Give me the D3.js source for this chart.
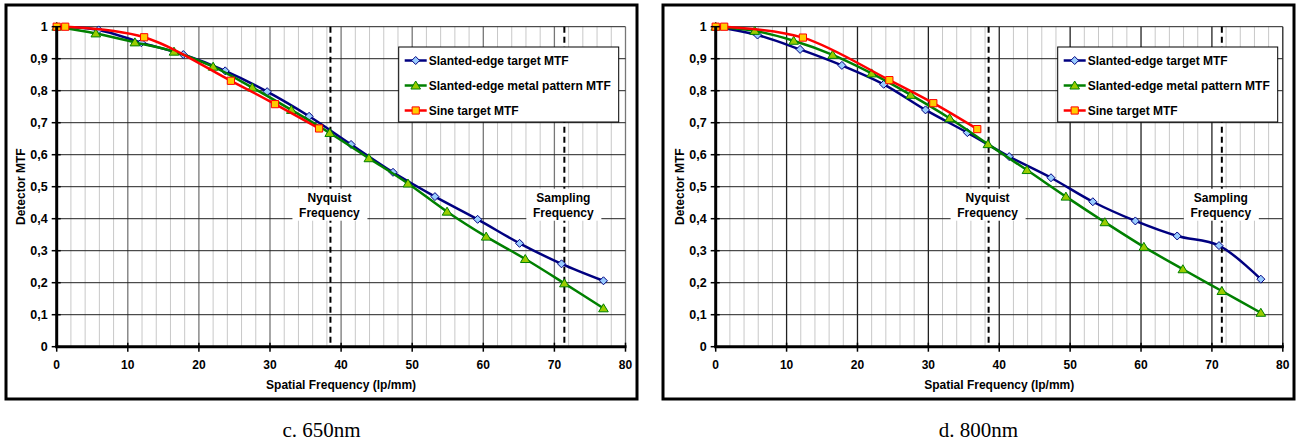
<!DOCTYPE html>
<html><head><meta charset="utf-8">
<script src="https://cdn.jsdelivr.net/npm/d3@7"></script>
<style>body{margin:0;background:#fff}svg{display:block}</style>
</head><body>
<svg id="c" width="1296" height="443"></svg>
<script>
// ---- data ----
const xTicks = [0,10,20,30,40,50,60,70,80];
const xMinor = [2,4,6,8,12,14,16,18,22,24,26,28,32,34,36,38,42,44,46,48,52,54,56,58,62,64,66,68,72,74,76,78];
const yTicks = [0,0.1,0.2,0.3,0.4,0.5,0.6,0.7,0.8,0.9,1];
const yTickLabels = ["0","0,1","0,2","0,3","0,4","0,5","0,6","0,7","0,8","0,9","1"];
const seriesNames = ["Slanted-edge target MTF","Slanted-edge metal pattern MTF","Sine target MTF"];
const blueX  = [0,5.9,11.9,17.8,23.7,29.6,35.5,41.4,47.3,53.2,59.2,65.1,71.0,76.9];
const greenX = [0,5.5,11.0,16.5,22.0,27.5,33.0,38.4,43.9,49.4,54.9,60.4,65.9,71.4,76.9];
const redX   = [0,1.2,12.3,24.5,30.7,36.9];
const blue650  = [1,0.990,0.950,0.913,0.862,0.797,0.720,0.632,0.545,0.469,0.398,0.323,0.259,0.206];
const green650 = [1,0.979,0.951,0.922,0.875,0.810,0.740,0.668,0.589,0.510,0.422,0.344,0.274,0.198,0.120];
const red650   = [1,1,0.967,0.831,0.758,0.682];
const blue800  = [1,0.974,0.929,0.879,0.820,0.740,0.669,0.594,0.528,0.453,0.393,0.346,0.316,0.211];
const green800 = [1,0.987,0.956,0.912,0.854,0.787,0.714,0.633,0.552,0.469,0.389,0.312,0.242,0.174,0.106];
const red800   = [1,1,0.966,0.833,0.761,0.680];
const nyquist = 38.5, sampling = 71.4;
const captions = ["c. 650nm","d. 800nm"];

// ---- drawing ----
const svg = d3.select("#c");
const FONT = "'Liberation Sans', Arial, sans-serif";
const styles = [
  {line:"#000080", fill:"#99ccff", shape:"diamond"},
  {line:"#008000", fill:"#99cc00", shape:"triangle"},
  {line:"#ff0000", fill:"#ffcc00", shape:"square"}
];
function marker(sel, shape, fill, stroke){
  let d;
  if(shape==="diamond") d="M0,-4L4,0L0,4L-4,0Z";
  else if(shape==="triangle") d="M0,-4.5L4.8,3.5L-4.8,3.5Z";
  else d="M-3.6,-3.6H3.6V3.6H-3.6Z";
  sel.append("path").attr("d",d).attr("fill",fill).attr("stroke",stroke).attr("stroke-width",1);
}

function drawChart(frame, plot, series, caption, majorColor){
  const g = svg.append("g");
  g.append("rect").attr("x",frame.x0).attr("y",frame.y0)
    .attr("width",frame.x1-frame.x0).attr("height",frame.y1-frame.y0)
    .attr("fill","#fff").attr("stroke","#000").attr("stroke-width",3);
  const x = d3.scaleLinear().domain([0,80]).range([plot.x0, plot.x1]);
  const y = d3.scaleLinear().domain([0,1]).range([plot.y1, plot.y0]);
  // grid
  g.selectAll(".mn").data(xMinor).join("line")
    .attr("x1",d=>x(d)).attr("x2",d=>x(d)).attr("y1",y(0)).attr("y2",y(1))
    .attr("stroke","#c8c8c8").attr("stroke-width",1);
  g.selectAll(".mj").data(xTicks.slice(1)).join("line")
    .attr("x1",d=>x(d)).attr("x2",d=>x(d)).attr("y1",y(0)).attr("y2",y(1))
    .attr("stroke",majorColor).attr("stroke-width",1.3);
  g.selectAll(".hz").data(yTicks.slice(1)).join("line")
    .attr("x1",x(0)).attr("x2",x(80)).attr("y1",d=>y(d)).attr("y2",d=>y(d))
    .attr("stroke","#222").attr("stroke-width",1);
  // dashed frequency lines
  [nyquist, sampling].forEach(v=>{
    g.append("line").attr("x1",x(v)).attr("x2",x(v)).attr("y1",y(1)).attr("y2",y(0))
      .attr("stroke","#000").attr("stroke-width",2).attr("stroke-dasharray","6,4");
  });
  // series
  const line = d3.line().x(d=>x(d[0])).y(d=>y(d[1])).curve(d3.curveCatmullRom.alpha(0.5));
  series.forEach((s,i)=>{
    const pts = s.x.map((v,j)=>[v,s.y[j]]);
    const st = styles[i];
    g.append("path").attr("d",line(pts)).attr("fill","none")
      .attr("stroke",st.line).attr("stroke-width",2.5);
    pts.forEach(p=>{
      const m = g.append("g").attr("transform",`translate(${x(p[0])},${y(p[1])})`);
      marker(m, st.shape, st.fill, st.line);
    });
  });
  // axes
  g.append("line").attr("x1",x(0)).attr("x2",x(0)).attr("y1",y(0)).attr("y2",y(1))
    .attr("stroke","#000").attr("stroke-width",3);
  g.append("line").attr("x1",x(0)-1.5).attr("x2",x(80)+1).attr("y1",y(0)).attr("y2",y(0))
    .attr("stroke","#000").attr("stroke-width",3);
  g.selectAll(".yt").data(yTicks).join("line")
    .attr("x1",x(0)-5).attr("x2",x(0)+4).attr("y1",d=>y(d)).attr("y2",d=>y(d))
    .attr("stroke","#000").attr("stroke-width",1.5);
  g.selectAll(".xt").data(xTicks).join("line")
    .attr("x1",d=>x(d)).attr("x2",d=>x(d)).attr("y1",y(0)-4).attr("y2",y(0)+5)
    .attr("stroke","#000").attr("stroke-width",1.5);
  g.selectAll(".yl").data(yTicks).join("text")
    .attr("x",x(0)-9).attr("y",d=>y(d)+4.3).attr("text-anchor","end")
    .attr("font-family",FONT).attr("font-weight","bold").attr("font-size",12.5)
    .text((d,i)=>yTickLabels[i]);
  g.selectAll(".xl").data(xTicks).join("text")
    .attr("x",d=>x(d)).attr("y",368.5).attr("text-anchor","middle")
    .attr("font-family",FONT).attr("font-weight","bold").attr("font-size",12)
    .text(d=>d);
  g.append("text").attr("x",(plot.x0+plot.x1)/2).attr("y",388.5).attr("text-anchor","middle")
    .attr("font-family",FONT).attr("font-weight","bold").attr("font-size",12)
    .text("Spatial Frequency (lp/mm)");
  g.append("text").attr("transform",`translate(${plot.x0-32},${(plot.y0+plot.y1)/2}) rotate(-90)`)
    .attr("text-anchor","middle")
    .attr("font-family",FONT).attr("font-weight","bold").attr("font-size",12)
    .text("Detector MTF");
  // frequency labels
  [[nyquist,"Nyquist"],[sampling,"Sampling"]].forEach(([v,t])=>{
    const cx = x(v)-1;
    g.append("rect").attr("x",cx-37).attr("y",y(0.5)+2).attr("width",75).attr("height",y(0.4)-y(0.5))
      .attr("fill","#fff");
    g.append("text").attr("x",cx).attr("y",201.5).attr("text-anchor","middle")
      .attr("font-family",FONT).attr("font-weight","bold").attr("font-size",12).text(t);
    g.append("text").attr("x",cx).attr("y",216.5).attr("text-anchor","middle")
      .attr("font-family",FONT).attr("font-weight","bold").attr("font-size",12).text("Frequency");
  });
  // legend
  const lx = plot.x0+342, ly = 47;
  g.append("rect").attr("x",lx).attr("y",ly).attr("width",220).attr("height",75)
    .attr("fill","#fff").attr("stroke","#000").attr("stroke-width",1);
  seriesNames.forEach((n,i)=>{
    const ry = ly+13.5+i*25;
    const st = styles[i];
    g.append("line").attr("x1",lx+6).attr("x2",lx+28).attr("y1",ry).attr("y2",ry)
      .attr("stroke",st.line).attr("stroke-width",2.5);
    const m = g.append("g").attr("transform",`translate(${lx+17},${ry})`);
    marker(m, st.shape, st.fill, st.line);
    g.append("text").attr("x",lx+30).attr("y",ry+4.3).attr("font-family",FONT)
      .attr("font-weight","bold").attr("font-size",12).text(n);
  });
  // caption
  svg.append("text").attr("x",(frame.x0+frame.x1)/2).attr("y",437).attr("text-anchor","middle")
    .attr("font-family","'Liberation Serif','Times New Roman',serif").attr("font-size",21)
    .text(caption);
}

drawChart({x0:6,y0:5,x1:637,y1:399},{x0:56.7,x1:625.5,y0:26.7,y1:346.7},
  [{x:blueX,y:blue650},{x:greenX,y:green650},{x:redX,y:red650}], captions[0], "#777");
drawChart({x0:663,y0:5,x1:1294,y1:399},{x0:715.7,x1:1282.8,y0:26.7,y1:346.7},
  [{x:blueX,y:blue800},{x:greenX,y:green800},{x:redX,y:red800}], captions[1], "#222");
</script>
</body></html>
